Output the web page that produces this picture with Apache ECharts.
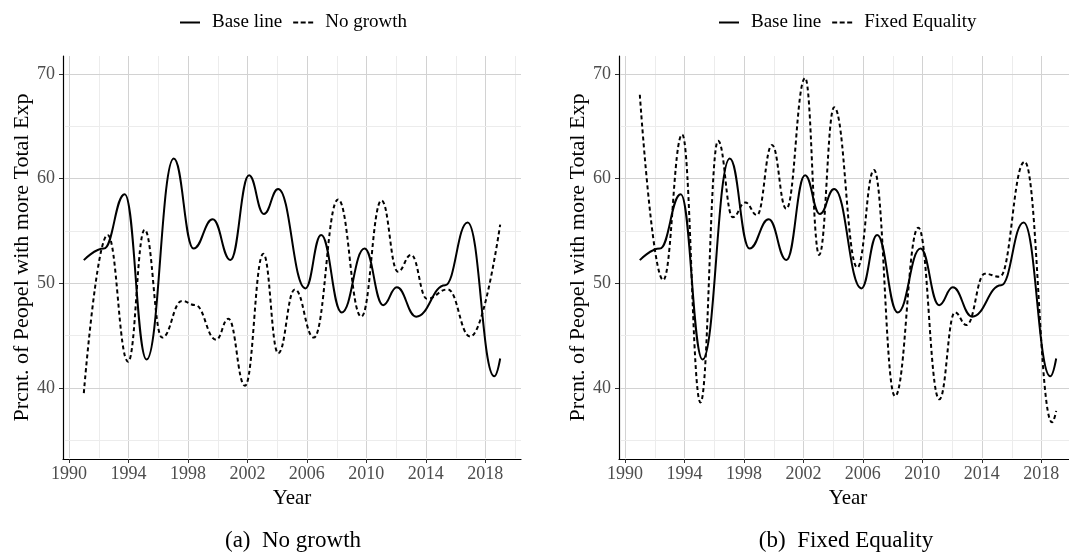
<!DOCTYPE html>
<html>
<head>
<meta charset="utf-8">
<script src="https://cdn.jsdelivr.net/npm/echarts@6/dist/echarts.min.js"></script>
<style>
  html, body { margin: 0; padding: 0; background: #ffffff; }
  #chart { width: 1069px; height: 558px; }
</style>
</head>
<body>
<div id="chart"></div>
<script>
// Yearly turning points of each scenario (year, percent)
const baseYears = [1991.0, 1992.35, 1993.75, 1995.22, 1997.05, 1998.38, 1999.67, 2000.86, 2002.11, 2003.11, 2004.07, 2005.9, 2006.96, 2008.34, 2009.88, 2011.13, 2012.05, 2013.35, 2015.3, 2016.81, 2018.6, 2019.0];
const baseValues = [52.2, 53.3, 58.5, 42.7, 61.9, 53.3, 56.1, 52.2, 60.3, 56.6, 59.0, 49.5, 54.6, 47.2, 53.3, 47.9, 49.6, 46.8, 49.8, 55.8, 41.1, 42.8];

const noGrowthYears = [1991.0, 1992.6, 1993.98, 1995.09, 1996.26, 1997.6, 1998.49, 1999.9, 2000.72, 2001.84, 2003.07, 2004.07, 2005.19, 2006.47, 2008.1, 2009.66, 2011.02, 2012.12, 2013.01, 2014.08, 2015.47, 2016.99, 2019.0];
const noGrowthValues = [39.5, 54.6, 42.5, 55.1, 44.8, 48.3, 47.9, 44.6, 46.6, 40.2, 52.8, 43.3, 49.4, 44.8, 58.0, 46.8, 57.9, 51.1, 52.7, 48.5, 49.4, 44.9, 55.6];

const fixedYears = [1991.0, 1992.57, 1993.85, 1995.08, 1996.26, 1997.25, 1998.1, 1998.88, 1999.89, 2000.85, 2002.12, 2003.06, 2004.07, 2005.63, 2006.75, 2008.16, 2009.73, 2011.14, 2012.19, 2012.97, 2014.2, 2015.2, 2016.88, 2018.72, 2019.0];
const fixedValues = [68.0, 50.3, 64.2, 38.6, 63.6, 56.3, 57.7, 56.5, 63.2, 57.1, 69.6, 52.7, 66.8, 51.5, 60.8, 39.2, 55.3, 38.9, 47.2, 46.0, 50.9, 50.6, 61.6, 36.7, 37.8];

// Axis ticks and grid lines
const xTicks = [1990, 1994, 1998, 2002, 2006, 2010, 2014, 2018];
const xMinorTicks = [1992, 1996, 2000, 2004, 2008, 2012, 2016, 2020];
const yTicks = [40, 50, 60, 70];
const yMinorTicks = [35, 45, 55, 65];

const pairs = (xs, ys) => xs.map((x, i) => [x, ys[i]]);

const FONT = 'Liberation Serif';
const MAJOR = '#d2d2d2';
const MINOR = '#ececec';
const X_MIN = 1989.6, X_MAX = 2020.4;
const Y_MIN = 33.2, Y_MAX = 71.7;

// legend keys: a solid bar and a three-dash bar
const SOLID_ICON = 'path://M0,0H20V2H0Z';
const DASH_ICON = 'path://M0,0H5V2H0Z M7.5,0H12.5V2H7.5Z M15,0H20V2H15Z';

// grid lines: [x, y, kind]  kind 0/1 vertical major/minor, 2/3 horizontal major/minor
const gridData = []
  .concat(xTicks.map(t => [t, 50, 0]))
  .concat(xMinorTicks.map(t => [t, 50, 1]))
  .concat(yTicks.map(t => [2000, t, 2]))
  .concat(yMinorTicks.map(t => [2000, t, 3]));

function renderGrid(params, api) {
  const cs = params.coordSys;
  const kind = api.value(2);
  const pt = api.coord([api.value(0), api.value(1)]);
  const color = (kind === 0 || kind === 2) ? MAJOR : MINOR;
  let shape;
  if (kind < 2) {
    const x = Math.round(pt[0]) + 0.5;
    shape = { x1: x, y1: cs.y, x2: x, y2: cs.y + cs.height - 1 };
  } else {
    const y = Math.round(pt[1]) + 0.5;
    shape = { x1: cs.x + 1, y1: y, x2: cs.x + cs.width, y2: y };
  }
  return { type: 'line', shape: shape, silent: true,
           style: { stroke: color, lineWidth: 1 } };
}

function xAxisFor(gridIndex) {
  return {
    type: 'value', gridIndex: gridIndex, min: X_MIN, max: X_MAX,
    name: 'Year', nameLocation: 'middle', nameGap: 20,
    nameTextStyle: { fontFamily: FONT, fontSize: 21, color: '#000' },
    axisLine: { show: true, onZero: false, lineStyle: { color: '#000', width: 1.2 } },
    axisTick: { show: true, customValues: xTicks, length: 4, lineStyle: { color: '#333' } },
    axisLabel: { customValues: xTicks, margin: 6, fontFamily: FONT, fontSize: 18, color: '#4d4d4d',
                 formatter: v => String(v) },
    splitLine: { show: false }
  };
}

function yAxisFor(gridIndex) {
  return {
    type: 'value', gridIndex: gridIndex, min: Y_MIN, max: Y_MAX,
    name: 'Prcnt. of Peopel with more Total Exp', nameLocation: 'middle', nameGap: 30,
    nameTextStyle: { fontFamily: FONT, fontSize: 22, color: '#000' },
    axisLine: { show: true, onZero: false, lineStyle: { color: '#000', width: 1.2 } },
    axisTick: { show: true, customValues: yTicks, length: 4, lineStyle: { color: '#333' } },
    axisLabel: { customValues: yTicks, margin: 8, fontFamily: FONT, fontSize: 18, color: '#4d4d4d',
                 formatter: v => String(v) },
    splitLine: { show: false }
  };
}

function curve(name, gridIndex, data, dashed) {
  return {
    type: 'line', name: name, xAxisIndex: gridIndex, yAxisIndex: gridIndex,
    data: data, symbol: 'none', smooth: 0.45, smoothMonotone: 'x', z: 3,
    lineStyle: { color: '#000', width: 2, type: dashed ? [4, 3] : 'solid' },
    itemStyle: { color: '#000' }
  };
}

function gridLines(gridIndex) {
  return {
    type: 'custom', xAxisIndex: gridIndex, yAxisIndex: gridIndex, z: 1,
    silent: true, renderItem: renderGrid, data: gridData
  };
}

function legendAt(left, names) {
  return {
    data: [
      { name: names[0], icon: SOLID_ICON },
      { name: names[1], icon: DASH_ICON }
    ],
    left: left, top: 8, orient: 'horizontal',
    itemWidth: 20, itemHeight: 2, itemGap: 11, selectedMode: false,
    itemStyle: { color: '#000', borderWidth: 0 },
    textStyle: { fontFamily: FONT, fontSize: 19, color: '#000', padding: [0, 0, 0, 7] }
  };
}

const chart = echarts.init(document.getElementById('chart'), null, { renderer: 'canvas' });
chart.setOption({
  animation: false,
  backgroundColor: '#ffffff',
  grid: [
    { left: 63, top: 56, width: 458, height: 403, outerBoundsMode: 'none', containLabel: false },
    { left: 619, top: 56, width: 458, height: 403, outerBoundsMode: 'none', containLabel: false }
  ],
  xAxis: [xAxisFor(0), xAxisFor(1)],
  yAxis: [yAxisFor(0), yAxisFor(1)],
  legend: [
    legendAt(175, ['Base line', 'No growth']),
    legendAt(714, ['Base line', 'Fixed Equality'])
  ],
  series: [
    gridLines(0),
    gridLines(1),
    curve('Base line', 0, pairs(baseYears, baseValues), false),
    curve('No growth', 0, pairs(noGrowthYears, noGrowthValues), true),
    curve('Base line', 1, pairs(baseYears, baseValues), false),
    curve('Fixed Equality', 1, pairs(fixedYears, fixedValues), true)
  ],
  graphic: [
    { type: 'text', x: 293, y: 541, style: { text: '(a)  No growth', x: 0, y: 0, align: 'center', verticalAlign: 'middle', font: '23px "Liberation Serif"', fill: '#000' } },
    { type: 'text', x: 846, y: 541, style: { text: '(b)  Fixed Equality', x: 0, y: 0, align: 'center', verticalAlign: 'middle', font: '23px "Liberation Serif"', fill: '#000' } }
  ]
});
</script>
</body>
</html>
